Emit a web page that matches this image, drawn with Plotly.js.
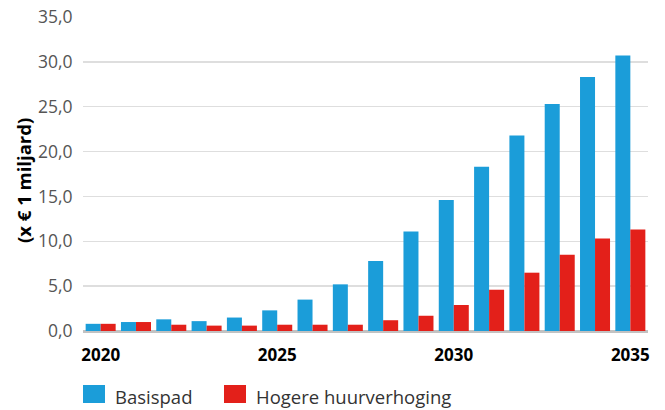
<!DOCTYPE html>
<html>
<head>
<meta charset="utf-8">
<script src="https://cdn.plot.ly/plotly-3.0.1.min.js"></script>
<style>html,body{margin:0;padding:0;background:#fff;}#chart{width:665px;height:410px;}</style>
</head>
<body>
<div id="chart"></div>
<script>
const years = [2020,2021,2022,2023,2024,2025,2026,2027,2028,2029,2030,2031,2032,2033,2034,2035];
const basispad = [0.8,1.0,1.3,1.1,1.5,2.3,3.5,5.2,7.8,11.1,14.6,18.3,21.8,25.3,28.3,30.7];
const hogere = [0.8,1.0,0.7,0.6,0.6,0.7,0.7,0.7,1.2,1.7,2.9,4.6,6.5,8.5,10.3,11.3];
const seriesNames = ["Basispad","Hogere huurverhoging"];
const xTicks = [2020,2025,2030,2035];
const yTicks = [0,5,10,15,20,25,30,35];
const colors = ["#1b9dd9","#e3201a"];
const font = "'Open Sans', 'Noto Sans', sans-serif";

const traces = [
  {type:"bar", x:years, y:basispad, name:seriesNames[0], marker:{color:colors[0]}, showlegend:false},
  {type:"bar", x:years, y:hogere, name:seriesNames[1], marker:{color:colors[1]}, showlegend:false}
];

const layout = {
  width:665, height:410,
  margin:{l:83, r:17, t:17, b:79},
  paper_bgcolor:"#fff", plot_bgcolor:"#fff",
  barmode:"group", bargap:0.15, bargroupgap:0,
  separators:",.",
  font:{family:font},
  xaxis:{
    range:[2019.5,2035.5], tickvals:xTicks, ticktext:xTicks.map(String),
    showgrid:false, zeroline:false, showline:false,
    ticks:"outside", ticklen:9, tickcolor:"rgba(0,0,0,0)",
    tickfont:{family:font, size:17, color:"#000", weight:"bold"}
  },
  yaxis:{
    range:[0,35], tickvals:yTicks, tickformat:".1f",
    showgrid:true, gridcolor:"#dedede", gridwidth:1.5,
    zeroline:true, zerolinecolor:"#c2c2c2", zerolinewidth:3,
    showline:false,
    ticks:"outside", ticklen:6, tickcolor:"rgba(0,0,0,0)",
    tickfont:{family:font, size:17.5, color:"#555"}
  },
  shapes:[
    {type:"rect", xref:"paper", yref:"paper", x0:0, x1:22/565, y0:-(403-331)/314, y1:-(385-331)/314, fillcolor:colors[0], line:{width:0}},
    {type:"rect", xref:"paper", yref:"paper", x0:(224-83)/565, x1:(246-83)/565, y0:-(403-331)/314, y1:-(385-331)/314, fillcolor:colors[1], line:{width:0}}
  ],
  annotations:[
    {xref:"paper", yref:"paper", x:(23-83)/565, y:(331-181)/314, xanchor:"center", yanchor:"middle", textangle:-90, text:"(x € 1 miljard)", showarrow:false, font:{family:font, size:18.5, color:"#000", weight:"bold"}},
    {xref:"paper", yref:"paper", x:(113-83)/565, y:-(396-331)/314, xanchor:"left", yanchor:"middle", text:seriesNames[0], showarrow:false, font:{family:font, size:18.5, color:"#333"}},
    {xref:"paper", yref:"paper", x:(254-83)/565, y:-(396-331)/314, xanchor:"left", yanchor:"middle", text:seriesNames[1], showarrow:false, font:{family:font, size:18.5, color:"#333"}}
  ]
};

Plotly.newPlot("chart", traces, layout, {displayModeBar:false, staticPlot:true});
</script>
</body>
</html>
